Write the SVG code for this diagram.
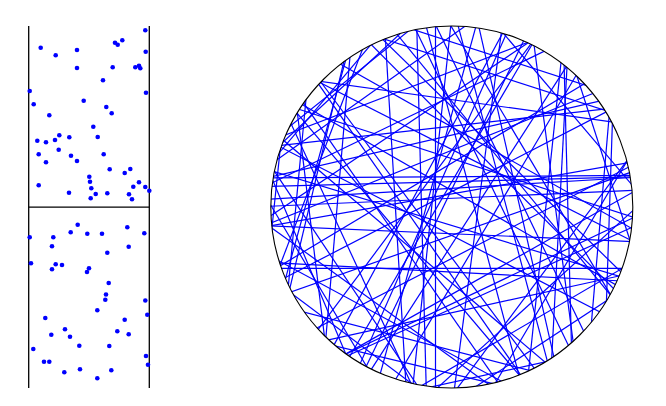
<svg xmlns="http://www.w3.org/2000/svg" width="666" height="406" viewBox="0 0 666 406">
<style>
.ax{stroke:#000;stroke-width:1.3;fill:none}
.d{fill:#0000ff}
.ch line{stroke:#0000ff;stroke-width:1.2}
.circ{fill:none;stroke:#000;stroke-width:1.1}
</style>
<defs>
<clipPath id="cc"><circle cx="451.8" cy="207" r="181"/></clipPath>
</defs>
<rect width="666" height="406" fill="#fff"/>
<g id="panel">
<line class="ax" x1="28.7" y1="26" x2="28.7" y2="388"/>
<line class="ax" x1="149.3" y1="26" x2="149.3" y2="388"/>
<line class="ax" x1="28.7" y1="207.2" x2="149.3" y2="207.2"/>
</g>
<g id="dots" class="d">
<circle cx="145.3" cy="30.3" r="2.3"/><circle cx="40.7" cy="47.7" r="2.3"/><circle cx="77" cy="50" r="2.3"/><circle cx="55.7" cy="55.3" r="2.3"/>
<circle cx="115" cy="42.7" r="2.3"/><circle cx="117.7" cy="44.7" r="2.3"/><circle cx="122.3" cy="40.3" r="2.3"/><circle cx="145.7" cy="51.7" r="2.3"/>
<circle cx="77" cy="68" r="2.3"/><circle cx="112.7" cy="67.3" r="2.3"/><circle cx="135.3" cy="67.3" r="2.3"/><circle cx="139" cy="65.7" r="2.3"/>
<circle cx="140.3" cy="68.3" r="2.3"/><circle cx="103" cy="80.3" r="2.3"/><circle cx="29.7" cy="91" r="2.3"/><circle cx="146" cy="92.7" r="2.3"/>
<circle cx="33.7" cy="104.3" r="2.3"/><circle cx="83.7" cy="100.7" r="2.3"/><circle cx="106.3" cy="107" r="2.3"/><circle cx="111.7" cy="113.3" r="2.3"/>
<circle cx="49.3" cy="115.3" r="2.3"/><circle cx="93.3" cy="126.7" r="2.3"/><circle cx="97.7" cy="137" r="2.3"/><circle cx="37.3" cy="140.7" r="2.3"/>
<circle cx="46" cy="142.3" r="2.3"/><circle cx="55" cy="140" r="2.3"/><circle cx="59.3" cy="135.3" r="2.3"/><circle cx="69.3" cy="137.3" r="2.3"/>
<circle cx="38.7" cy="154.3" r="2.3"/><circle cx="58.7" cy="149.7" r="2.3"/><circle cx="46" cy="162.3" r="2.3"/><circle cx="71" cy="155.7" r="2.3"/>
<circle cx="77" cy="161" r="2.3"/><circle cx="103.7" cy="154.3" r="2.3"/><circle cx="109.7" cy="169.3" r="2.3"/><circle cx="124.7" cy="173" r="2.3"/>
<circle cx="130.3" cy="169" r="2.3"/><circle cx="89.3" cy="176.7" r="2.3"/><circle cx="90" cy="181.7" r="2.3"/><circle cx="91.3" cy="188.3" r="2.3"/>
<circle cx="38.7" cy="185.3" r="2.3"/><circle cx="69" cy="192.7" r="2.3"/><circle cx="95.7" cy="194" r="2.3"/><circle cx="90.7" cy="198.3" r="2.3"/>
<circle cx="107.3" cy="193.3" r="2.3"/><circle cx="139" cy="182.3" r="2.3"/><circle cx="133.3" cy="186.7" r="2.3"/><circle cx="145.3" cy="187" r="2.3"/>
<circle cx="149.3" cy="190.7" r="2.3"/><circle cx="129" cy="194.3" r="2.3"/><circle cx="132" cy="199.3" r="2.3"/>
<circle cx="29.7" cy="237.3" r="2.3"/><circle cx="53.3" cy="237.3" r="2.3"/><circle cx="70.7" cy="232.3" r="2.3"/><circle cx="77.7" cy="224.7" r="2.3"/>
<circle cx="87.3" cy="233.7" r="2.3"/><circle cx="102" cy="233.7" r="2.3"/><circle cx="127.3" cy="227.3" r="2.3"/><circle cx="144.3" cy="233.3" r="2.3"/>
<circle cx="52" cy="246.3" r="2.3"/><circle cx="128.7" cy="246.7" r="2.3"/><circle cx="107.3" cy="252.7" r="2.3"/><circle cx="31" cy="263.3" r="2.3"/>
<circle cx="55.7" cy="264.3" r="2.3"/><circle cx="62" cy="265" r="2.3"/><circle cx="52" cy="269.3" r="2.3"/><circle cx="89" cy="268.3" r="2.3"/>
<circle cx="87" cy="272" r="2.3"/><circle cx="108.7" cy="283" r="2.3"/><circle cx="106" cy="294.5" r="2.3"/><circle cx="105.3" cy="299.7" r="2.3"/>
<circle cx="145.3" cy="300.5" r="2.3"/><circle cx="97.3" cy="310.3" r="2.3"/><circle cx="147.3" cy="314.7" r="2.3"/><circle cx="45.3" cy="318" r="2.3"/>
<circle cx="124.7" cy="319.7" r="2.3"/><circle cx="65" cy="329.3" r="2.3"/><circle cx="117.3" cy="331.3" r="2.3"/><circle cx="51.3" cy="334.7" r="2.3"/>
<circle cx="70" cy="336.7" r="2.3"/><circle cx="128.7" cy="334.3" r="2.3"/><circle cx="79.3" cy="345.7" r="2.3"/><circle cx="109.3" cy="346" r="2.3"/>
<circle cx="33.3" cy="349" r="2.3"/><circle cx="44" cy="361.7" r="2.3"/><circle cx="49.3" cy="361.7" r="2.3"/><circle cx="146" cy="356" r="2.3"/>
<circle cx="148" cy="364.7" r="2.3"/><circle cx="64.3" cy="372.3" r="2.3"/><circle cx="80" cy="369.3" r="2.3"/><circle cx="111.3" cy="370.3" r="2.3"/>
<circle cx="97.3" cy="378.3" r="2.3"/>
</g>
<g id="chords" clip-path="url(#cc)">
<g class="ch" transform="translate(451.8 207)">
<line x1="-200" x2="200" y1="-176.7" y2="-176.7" transform="rotate(-84)"/>
<line x1="-200" x2="200" y1="-159.3" y2="-159.3" transform="rotate(72.1)"/>
<line x1="-200" x2="200" y1="-157" y2="-157" transform="rotate(17.9)"/>
<line x1="-200" x2="200" y1="-151.7" y2="-151.7" transform="rotate(49.7)"/>
<line x1="-200" x2="200" y1="-164.3" y2="-164.3" transform="rotate(-38.8)"/>
<line x1="-200" x2="200" y1="-162.3" y2="-162.3" transform="rotate(-42.8)"/>
<line x1="-200" x2="200" y1="-166.7" y2="-166.7" transform="rotate(-49.7)"/>
<line x1="-200" x2="200" y1="-155.3" y2="-155.3" transform="rotate(-84.6)"/>
<line x1="-200" x2="200" y1="-139" y2="-139" transform="rotate(17.9)"/>
<line x1="-200" x2="200" y1="-139.7" y2="-139.7" transform="rotate(-35.4)"/>
<line x1="-200" x2="200" y1="-139.7" y2="-139.7" transform="rotate(-69.1)"/>
<line x1="-200" x2="200" y1="-141.3" y2="-141.3" transform="rotate(-74.6)"/>
<line x1="-200" x2="200" y1="-138.7" y2="-138.7" transform="rotate(-76.6)"/>
<line x1="-200" x2="200" y1="-126.7" y2="-126.7" transform="rotate(-20.9)"/>
<line x1="-200" x2="200" y1="-116" y2="-116" transform="rotate(88.5)"/>
<line x1="-200" x2="200" y1="-114.3" y2="-114.3" transform="rotate(-85.1)"/>
<line x1="-200" x2="200" y1="-102.7" y2="-102.7" transform="rotate(82.5)"/>
<line x1="-200" x2="200" y1="-106.3" y2="-106.3" transform="rotate(7.9)"/>
<line x1="-200" x2="200" y1="-100" y2="-100" transform="rotate(-25.8)"/>
<line x1="-200" x2="200" y1="-93.7" y2="-93.7" transform="rotate(-33.9)"/>
<line x1="-200" x2="200" y1="-91.7" y2="-91.7" transform="rotate(59.3)"/>
<line x1="-200" x2="200" y1="-80.3" y2="-80.3" transform="rotate(-6.4)"/>
<line x1="-200" x2="200" y1="-70" y2="-70" transform="rotate(-13)"/>
<line x1="-200" x2="200" y1="-66.3" y2="-66.3" transform="rotate(77.2)"/>
<line x1="-200" x2="200" y1="-64.7" y2="-64.7" transform="rotate(64.2)"/>
<line x1="-200" x2="200" y1="-67" y2="-67" transform="rotate(50.7)"/>
<line x1="-200" x2="200" y1="-71.7" y2="-71.7" transform="rotate(44.3)"/>
<line x1="-200" x2="200" y1="-69.7" y2="-69.7" transform="rotate(29.4)"/>
<line x1="-200" x2="200" y1="-52.7" y2="-52.7" transform="rotate(75.1)"/>
<line x1="-200" x2="200" y1="-57.3" y2="-57.3" transform="rotate(45.2)"/>
<line x1="-200" x2="200" y1="-44.7" y2="-44.7" transform="rotate(64.2)"/>
<line x1="-200" x2="200" y1="-51.3" y2="-51.3" transform="rotate(26.9)"/>
<line x1="-200" x2="200" y1="-46" y2="-46" transform="rotate(17.9)"/>
<line x1="-200" x2="200" y1="-52.7" y2="-52.7" transform="rotate(-21.9)"/>
<line x1="-200" x2="200" y1="-37.7" y2="-37.7" transform="rotate(-30.9)"/>
<line x1="-200" x2="200" y1="-34" y2="-34" transform="rotate(-53.3)"/>
<line x1="-200" x2="200" y1="-38" y2="-38" transform="rotate(-61.6)"/>
<line x1="-200" x2="200" y1="-30.3" y2="-30.3" transform="rotate(-0.4)"/>
<line x1="-200" x2="200" y1="-25.3" y2="-25.3" transform="rotate(-1.5)"/>
<line x1="-200" x2="200" y1="-18.7" y2="-18.7" transform="rotate(-3.4)"/>
<line x1="-200" x2="200" y1="-21.7" y2="-21.7" transform="rotate(75.1)"/>
<line x1="-200" x2="200" y1="-14.3" y2="-14.3" transform="rotate(29.9)"/>
<line x1="-200" x2="200" y1="-13" y2="-13" transform="rotate(-10)"/>
<line x1="-200" x2="200" y1="-8.7" y2="-8.7" transform="rotate(-2.5)"/>
<line x1="-200" x2="200" y1="-13.7" y2="-13.7" transform="rotate(-27.3)"/>
<line x1="-200" x2="200" y1="-24.7" y2="-24.7" transform="rotate(-74.6)"/>
<line x1="-200" x2="200" y1="-20.3" y2="-20.3" transform="rotate(-66.1)"/>
<line x1="-200" x2="200" y1="-20" y2="-20" transform="rotate(-84)"/>
<line x1="-200" x2="200" y1="-16.3" y2="-16.3" transform="rotate(-90)"/>
<line x1="-200" x2="200" y1="-12.7" y2="-12.7" transform="rotate(-59.7)"/>
<line x1="-200" x2="200" y1="-7.7" y2="-7.7" transform="rotate(-64.2)"/>
<line x1="-200" x2="200" y1="30.3" y2="30.3" transform="rotate(88.5)"/>
<line x1="-200" x2="200" y1="30.3" y2="30.3" transform="rotate(53.3)"/>
<line x1="-200" x2="200" y1="25.3" y2="25.3" transform="rotate(27.3)"/>
<line x1="-200" x2="200" y1="17.7" y2="17.7" transform="rotate(16.9)"/>
<line x1="-200" x2="200" y1="26.7" y2="26.7" transform="rotate(2.5)"/>
<line x1="-200" x2="200" y1="26.7" y2="26.7" transform="rotate(-19.4)"/>
<line x1="-200" x2="200" y1="20.3" y2="20.3" transform="rotate(-57.2)"/>
<line x1="-200" x2="200" y1="26.3" y2="26.3" transform="rotate(-82.5)"/>
<line x1="-200" x2="200" y1="39.3" y2="39.3" transform="rotate(55.2)"/>
<line x1="-200" x2="200" y1="39.7" y2="39.7" transform="rotate(-59.3)"/>
<line x1="-200" x2="200" y1="45.7" y2="45.7" transform="rotate(-27.3)"/>
<line x1="-200" x2="200" y1="56.3" y2="56.3" transform="rotate(86.6)"/>
<line x1="-200" x2="200" y1="57.3" y2="57.3" transform="rotate(49.7)"/>
<line x1="-200" x2="200" y1="58" y2="58" transform="rotate(40.3)"/>
<line x1="-200" x2="200" y1="62.3" y2="62.3" transform="rotate(55.2)"/>
<line x1="-200" x2="200" y1="61.3" y2="61.3" transform="rotate(0)"/>
<line x1="-200" x2="200" y1="65" y2="65" transform="rotate(3)"/>
<line x1="-200" x2="200" y1="76" y2="76" transform="rotate(-29.4)"/>
<line x1="-200" x2="200" y1="87.5" y2="87.5" transform="rotate(-25.4)"/>
<line x1="-200" x2="200" y1="92.7" y2="92.7" transform="rotate(-24.3)"/>
<line x1="-200" x2="200" y1="93.5" y2="93.5" transform="rotate(-84)"/>
<line x1="-200" x2="200" y1="103.3" y2="103.3" transform="rotate(-12.4)"/>
<line x1="-200" x2="200" y1="107.7" y2="107.7" transform="rotate(-87)"/>
<line x1="-200" x2="200" y1="111" y2="111" transform="rotate(65.2)"/>
<line x1="-200" x2="200" y1="112.7" y2="112.7" transform="rotate(-53.3)"/>
<line x1="-200" x2="200" y1="122.3" y2="122.3" transform="rotate(35.8)"/>
<line x1="-200" x2="200" y1="124.3" y2="124.3" transform="rotate(-42.2)"/>
<line x1="-200" x2="200" y1="127.7" y2="127.7" transform="rotate(56.3)"/>
<line x1="-200" x2="200" y1="129.7" y2="129.7" transform="rotate(28.4)"/>
<line x1="-200" x2="200" y1="127.3" y2="127.3" transform="rotate(-59.3)"/>
<line x1="-200" x2="200" y1="138.7" y2="138.7" transform="rotate(14.5)"/>
<line x1="-200" x2="200" y1="139" y2="139" transform="rotate(-30.3)"/>
<line x1="-200" x2="200" y1="142" y2="142" transform="rotate(83.1)"/>
<line x1="-200" x2="200" y1="154.7" y2="154.7" transform="rotate(67.2)"/>
<line x1="-200" x2="200" y1="154.7" y2="154.7" transform="rotate(59.3)"/>
<line x1="-200" x2="200" y1="149" y2="149" transform="rotate(-85.1)"/>
<line x1="-200" x2="200" y1="157.7" y2="157.7" transform="rotate(-88.1)"/>
<line x1="-200" x2="200" y1="165.3" y2="165.3" transform="rotate(36.9)"/>
<line x1="-200" x2="200" y1="162.3" y2="162.3" transform="rotate(13.4)"/>
<line x1="-200" x2="200" y1="163.3" y2="163.3" transform="rotate(-33.3)"/>
<line x1="-200" x2="200" y1="171.3" y2="171.3" transform="rotate(-12.4)"/>
</g>
</g>
<circle id="disc" class="circ" cx="451.8" cy="207" r="181"/>
</svg>
